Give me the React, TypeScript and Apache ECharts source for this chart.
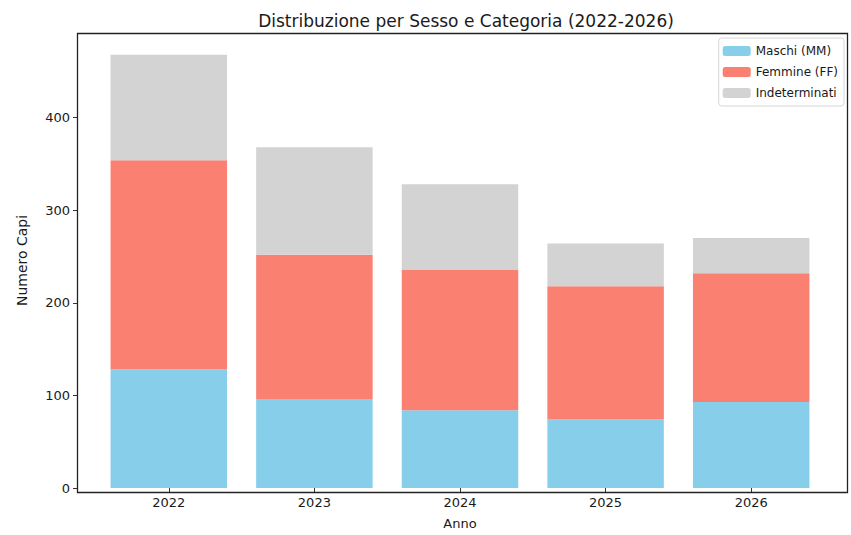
import React, { useEffect, useRef } from "react";
import * as echarts from "echarts";

const years = ["2022", "2023", "2024", "2025", "2026"];
const maschi = [128, 96, 84, 74, 93];
const femmine = [226, 156, 152, 144, 139];
const indeterminati = [114, 116, 92, 46, 38];
const yTicks = [0, 100, 200, 300, 400];

const FONT = "'DejaVu Sans', 'Noto Sans', sans-serif";

export default function App() {
  const ref = useRef<HTMLDivElement>(null);
  useEffect(() => {
    if (!ref.current) return;
    const chart = echarts.init(ref.current, null, { renderer: "svg" });
    const totals = years.map((_, i) => maschi[i] + femmine[i] + indeterminati[i]);
    const yMax = Math.max(...totals) * 1.05;
    chart.setOption({
      animation: false,
      backgroundColor: "#ffffff",
      textStyle: { fontFamily: FONT },
      title: {
        text: "Distribuzione per Sesso e Categoria (2022-2026)",
        left: 461,
        textAlign: "center",
        top: 7,
        textStyle: { fontFamily: FONT, fontSize: 17, fontWeight: "normal", color: "#1a1a1a" },
      },
      legend: {
        orient: "vertical",
        right: 7,
        top: 38,
        itemWidth: 28,
        itemHeight: 10,
        itemGap: 9,
        padding: [7, 6, 7, 4],
        borderColor: "#d6d6d6",
        borderWidth: 1,
        borderRadius: 3,
        backgroundColor: "#ffffff",
        textStyle: { fontFamily: FONT, fontSize: 12, color: "#1a1a1a" },
        data: ["Maschi (MM)", "Femmine (FF)", "Indeterminati"],
      },
      grid: { left: 96, right: 27, top: 33, bottom: 42, containLabel: false },
      xAxis: {
        type: "category",
        data: years,
        name: "Anno",
        nameLocation: "middle",
        nameGap: 29,
        nameTextStyle: { fontFamily: FONT, fontSize: 13, color: "#1a1a1a" },
        axisLine: { show: false },
        axisTick: { show: true, alignWithLabel: true, length: 4, lineStyle: { color: "#333" } },
        axisLabel: { fontFamily: FONT, fontSize: 13, color: "#1a1a1a", margin: 8 },
      },
      yAxis: {
        type: "value",
        min: 0,
        max: yMax,
        interval: 100,
        offset: 19,
        name: "Numero Capi",
        nameLocation: "middle",
        nameGap: 48,
        nameRotate: 90,
        nameTextStyle: { fontFamily: FONT, fontSize: 14, color: "#1a1a1a" },
        axisLine: { show: false },
        axisTick: { show: true, length: 4, lineStyle: { color: "#333" } },
        splitLine: { show: false },
        axisLabel: {
          fontFamily: FONT,
          fontSize: 13,
          color: "#1a1a1a",
          margin: 7,
          showMaxLabel: false,
          formatter: (v: number) => (yTicks.includes(v) ? String(v) : ""),
        },
      },
      series: [
        { name: "Maschi (MM)", type: "bar", stack: "t", data: maschi, barWidth: "80%", itemStyle: { color: "#87CEEB" } },
        { name: "Femmine (FF)", type: "bar", stack: "t", data: femmine, barWidth: "80%", itemStyle: { color: "#FA8072" } },
        { name: "Indeterminati", type: "bar", stack: "t", data: indeterminati, barWidth: "80%", itemStyle: { color: "#D3D3D3" } },
      ],
      graphic: [
        {
          type: "rect",
          shape: { x: 77.5, y: 33.5, width: 770, height: 459 },
          style: { fill: "none", stroke: "#222222", lineWidth: 1.3 },
          silent: true,
          z: 100,
        },
      ],
    });
    return () => chart.dispose();
  }, []);
  return (
    <div
      ref={ref}
      style={{ position: "fixed", left: 0, top: 0, width: 851, height: 535, background: "#fff" }}
    />
  );
}
